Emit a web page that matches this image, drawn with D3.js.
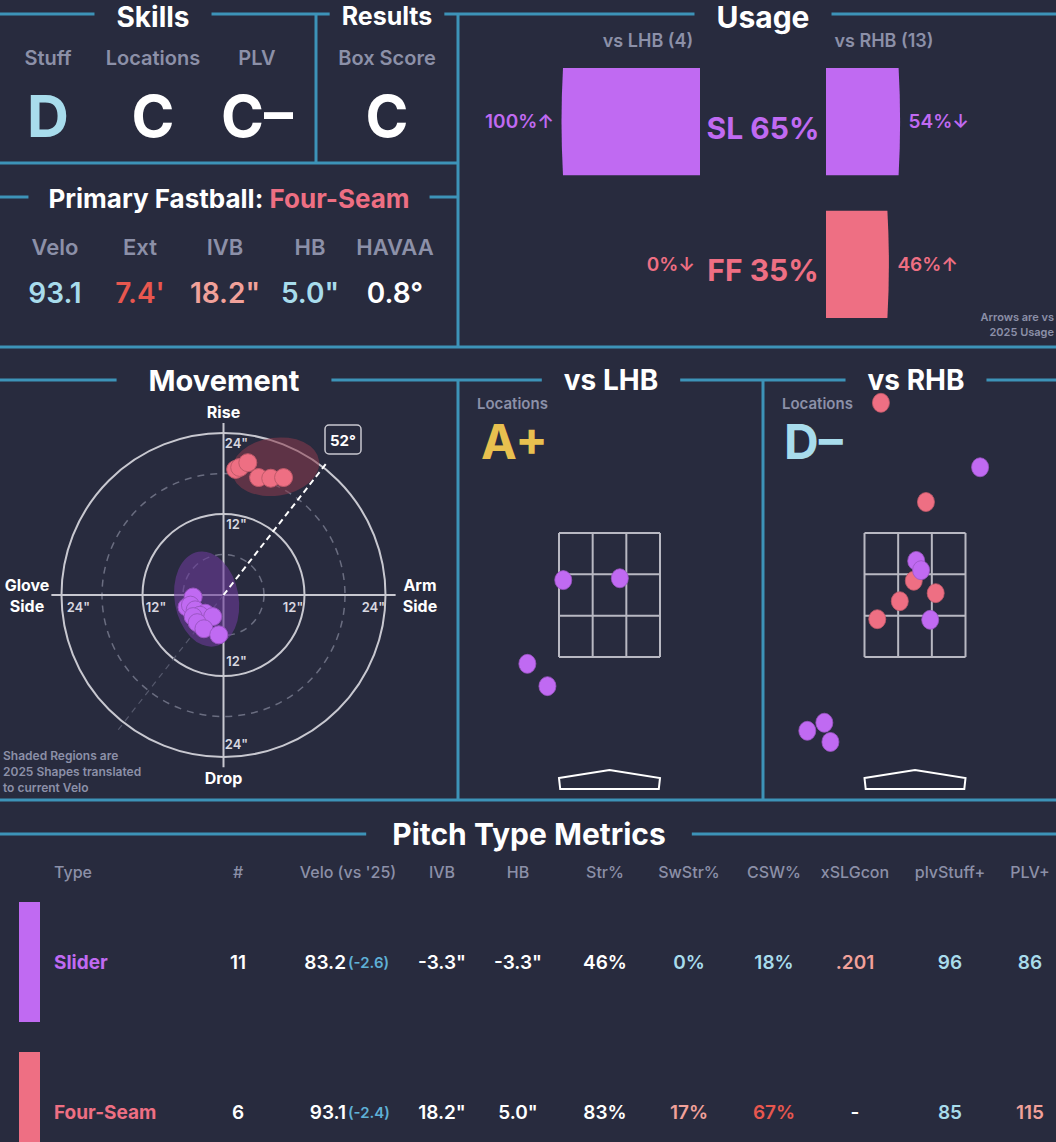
<!DOCTYPE html>
<html><head><meta charset="utf-8">
<script src="https://cdn.jsdelivr.net/npm/d3@7"></script>
<style>body{margin:0;background:#282b3e}svg{display:block}text{font-family:Inter,"Open Sans",sans-serif}</style>
</head><body>
<script>
// ---------- DATA ----------
const skillHeads = ["Stuff","Locations","PLV"];
const skillGrades = ["D","C","C-"];
const resultHead = "Box Score", resultGrade = "C";
const fbHeads = ["Velo","Ext","IVB","HB","HAVAA"];
const fbValues = ["93.1","7.4'","18.2\"","5.0\"","0.8°"];
const usagePitches = ["SL","FF"];
const usageTotal = [65,35];
const usageLHB = [100,0];
const usageRHB = [54,46];
const arrowsLHB = ["↑","↓"];
const arrowsRHB = ["↓","↑"];
// movement (inches): [HB, IVB]
const ffMove = [[1.8,18.6],[2.4,18.9],[3.6,19.6],[5.2,17.4],[7.0,17.3],[8.9,17.4]];
const slMove = [[-4.5,-0.3],[-5.4,-1.8],[-4.9,-1.5],[-4.2,-2.2],[-2.7,-2.7],[-3.5,-3.0],[-1.6,-3.2],[-4.5,-3.2],[-3.9,-4.1],[-2.9,-5.0],[-0.7,-5.9]];
const armAngle = 52;
// locations (ft): [plate_x, plate_z]
const lhbSL = [[-0.76,2.74],[0.17,2.77],[-1.35,1.39],[-1.02,1.03]];
const rhbFF = [[-0.56,5.60],[0.18,4.0],[-0.02,2.73],[-0.25,2.40],[0.34,2.53],[-0.62,2.11]];
const rhbSL = [[1.07,4.56],[0.02,3.05],[0.10,2.90],[0.25,2.10],[-1.77,0.31],[-1.49,0.44],[-1.39,0.13]];
const locGrades = ["A+","D-"];
const tableHeads = ["Type","#","Velo (vs '25)","IVB","HB","Str%","SwStr%","CSW%","xSLGcon","plvStuff+","PLV+"];
const rowNames = ["Slider","Four-Seam"];
const rowCount = ["11","6"];
const rowVelo = ["83.2","93.1"];
const rowVeloDiff = ["(-2.6)","(-2.4)"];
const rowIVB = ["-3.3\"","18.2\""];
const rowHB = ["-3.3\"","5.0\""];
const rowStr = ["46%","83%"];
const rowSwStr = ["0%","17%"];
const rowCSW = ["18%","67%"];
const rowXSLG = [".201","-"];
const rowStuff = ["96","85"];
const rowPLV = ["86","115"];

// ---------- STYLE ----------
const BG="#282b3e", LINE="#3d93b8", GRAY="#8c90a8", WHITE="#ffffff";
const PURPLE="#c06af2", PINK="#ee6f83", LBLUE="#a8dcec", RED="#e8574f", SALMON="#f1a19a", GOLD="#e8c04f", DBLUE="#5fb0d6";
const pitchColor = {SL:PURPLE, FF:PINK};
const gradeColor = {"D":LBLUE,"C":WHITE,"C-":WHITE,"A+":GOLD,"D-":LBLUE};

const W=1056,H=1142;
const svg=d3.select("body").append("svg").attr("width",W).attr("height",H);
svg.append("rect").attr("width",W).attr("height",H).attr("fill",BG);

function txt(x,y,s,o={}){
  return svg.append("text").attr("x",x).attr("y",y).text(s)
   .attr("fill",o.fill||WHITE).attr("font-size",o.size||16).attr("font-weight",o.weight||600)
   .attr("text-anchor",o.anchor||"middle").attr("dominant-baseline","central");
}
function hline(x0,x1,y){svg.append("line").attr("x1",x0).attr("x2",x1).attr("y1",y).attr("y2",y).attr("stroke",LINE).attr("stroke-width",3);}
function vline(x,y0,y1){svg.append("line").attr("x1",x).attr("x2",x).attr("y1",y0).attr("y2",y1).attr("stroke",LINE).attr("stroke-width",3);}
function section(title,cx,y,x0,x1,size=27,pad=14,ty=y){
  const t=txt(cx,ty,title,{size,weight:700});
  const w=t.node().getComputedTextLength();
  hline(x0,cx-w/2-pad,y); hline(cx+w/2+pad,x1,y);
  t.raise();
}

// ---------- FRAME ----------
section("Skills",153,14,0,316,28,22,17);
section("Results",387,14,316,458,25,12,16);
section("Usage",763,14,458,1056,30,22,17);
vline(316,14,163); vline(458,14,347);
hline(0,458,163);
hline(0,1056,347);
section("Movement",224,380,0,458,29,32);
section("vs LHB",611,380,458,763,28,22);
section("vs RHB",916,380,763,1056,28,22);
vline(458,380,800); vline(763,380,800);
hline(0,1056,800);
section("Pitch Type Metrics",529,834,0,1056,30,26);

// ---------- SKILLS ----------
const skX=[48,153,257];
skillHeads.forEach((h,i)=>{txt(skX[i],58,h,{fill:GRAY,size:20});
  txt(skX[i],116,skillGrades[i].replace("-","–"),{fill:gradeColor[skillGrades[i]],size:58,weight:700});});
txt(387,58,resultHead,{fill:GRAY,size:20});
txt(387,116,resultGrade,{fill:gradeColor[resultGrade],size:58,weight:700});

// primary fastball
{const t=svg.append("text").attr("y",198).attr("dominant-baseline","central").attr("font-size",26).attr("font-weight",700);
 t.append("tspan").attr("fill",WHITE).text("Primary Fastball: ");
 t.append("tspan").attr("fill",PINK).text("Four-Seam");
 const w=t.node().getComputedTextLength(); const cx=229;
 t.attr("x",cx-w/2); hline(0,cx-w/2-20,197); hline(cx+w/2+20,458,197);}
const fbX=[55,140,225,310,395], fbCol=[LBLUE,RED,SALMON,LBLUE,WHITE];
fbHeads.forEach((h,i)=>{txt(fbX[i],247,h,{fill:GRAY,size:22});txt(fbX[i],293,fbValues[i],{fill:fbCol[i],size:28});});

// ---------- USAGE ----------
txt(648,40,"vs LHB (4)",{fill:GRAY,size:18});
txt(884,40,"vs RHB (13)",{fill:GRAY,size:18});
const uy=d3.scaleBand().domain(usagePitches).range([68,318]).paddingInner(0.25);
const uw=d3.scaleLinear().domain([0,100]).range([0,140]);
usagePitches.forEach((p,i)=>{
  const y=uy(p),h=uy.bandwidth(),cy=y+h/2,c=pitchColor[p];
  const wl=uw(usageLHB[i]), wr=uw(usageRHB[i]);
  if(wl>0) svg.append("path").attr("fill",c).attr("d",`M700,${y}L${700-wl+3},${y}Q${700-wl},${cy} ${700-wl+3},${y+h}L700,${y+h}Z`);
  svg.append("path").attr("fill",c).attr("d",`M826,${y}L${826+wr-3},${y}Q${826+wr},${cy} ${826+wr-3},${y+h}L826,${y+h}Z`);
  txt(wl>0?700-wl-6:695,cy,usageLHB[i]+"%"+arrowsLHB[i],{fill:c,size:19,anchor:"end"});
  txt(826+wr+7,cy,usageRHB[i]+"%"+arrowsRHB[i],{fill:c,size:19,anchor:"start"});
  txt(763,cy+6,p+" "+usageTotal[i]+"%",{fill:c,size:30,weight:700});
});
txt(1054,317,"Arrows are vs",{fill:GRAY,size:11,anchor:"end"});
txt(1054,332,"2025 Usage",{fill:GRAY,size:11,anchor:"end"});

// ---------- MOVEMENT ----------
const mcx=223.5,mcy=595;
const r=d3.scaleLinear().domain([0,24]).range([0,162]);
const mx=v=>mcx+r(v), my=v=>mcy-r(v);
const mg=svg.append("g");
[6,18].forEach(d=>mg.append("circle").attr("cx",mcx).attr("cy",mcy).attr("r",r(d)).attr("fill","none").attr("stroke","#6a6d80").attr("stroke-width",1.5).attr("stroke-dasharray","7,6"));
[12,24].forEach(d=>mg.append("circle").attr("cx",mcx).attr("cy",mcy).attr("r",r(d)).attr("fill","none").attr("stroke","#c8c8d0").attr("stroke-width",2));
mg.append("line").attr("x1",mx(-25.5)).attr("x2",mx(25.5)).attr("y1",mcy).attr("y2",mcy).attr("stroke","#c8c8d0").attr("stroke-width",2);
mg.append("line").attr("x1",mcx).attr("x2",mcx).attr("y1",my(25.5)).attr("y2",my(-25.5)).attr("stroke","#c8c8d0").attr("stroke-width",2);
const aRad=armAngle*Math.PI/180;
mg.append("line").attr("x1",mcx).attr("y1",mcy).attr("x2",mcx-r(26)*Math.cos(aRad)).attr("y2",mcy+r(26)*Math.sin(aRad)).attr("stroke","#55586c").attr("stroke-width",1.2).attr("stroke-dasharray","6,5");
// shaded regions
mg.append("ellipse").attr("cx",mx(7.7)).attr("cy",my(19)).attr("rx",44).attr("ry",29).attr("transform",`rotate(-8,${mx(7.7)},${my(19)})`).attr("fill","#8a3a4c").attr("opacity",0.55);
mg.append("ellipse").attr("cx",mx(-2.5)).attr("cy",my(-0.6)).attr("rx",32).attr("ry",48).attr("transform",`rotate(-10,${mx(-2.5)},${my(-0.6)})`).attr("fill","#6a3a9a").attr("opacity",0.6);
// arm angle line
mg.append("line").attr("x1",mcx).attr("y1",mcy).attr("x2",mcx+r(25)*Math.cos(aRad)).attr("y2",mcy-r(25)*Math.sin(aRad)).attr("stroke",WHITE).attr("stroke-width",2).attr("stroke-dasharray","6,4");
mg.append("rect").attr("x",325).attr("y",425).attr("width",36).attr("height",29).attr("rx",4).attr("fill",BG).attr("stroke","#c8c8d0").attr("stroke-width",1.5);
txt(343,440,armAngle+"°",{size:15,weight:700});
// points
[[slMove,PURPLE],[ffMove,PINK]].forEach(([d,c])=>mg.selectAll(null).data(d).enter().append("circle")
  .attr("cx",p=>mx(p[0])).attr("cy",p=>my(p[1])).attr("r",9).attr("fill",c).attr("stroke",d3.color(c).darker(0.6)).attr("stroke-width",1));
// labels
txt(mcx,412,"Rise",{size:16,weight:700});
txt(mcx,778,"Drop",{size:16,weight:700});
txt(27,585,"Glove",{size:16,weight:700});txt(27,606,"Side",{size:16,weight:700});
txt(420,585,"Arm",{size:16,weight:700});txt(420,606,"Side",{size:16,weight:700});
const tl={size:13,fill:"#d8d8e0",weight:600};
[[mcx+13,my(22.5),"24\""],[mcx+13,my(10.5),"12\""],[mcx+13,my(-9.8),"12\""],[mcx+13,my(-22),"24\""],
 [mx(-21.5),607,"24\""],[mx(-10),607,"12\""],[mx(10.3),607,"12\""],[mx(22.2),607,"24\""]].forEach(d=>txt(d[0],d[1],d[2],tl));
["Shaded Regions are","2025 Shapes translated","to current Velo"].forEach((s,i)=>txt(3,755+i*16,s,{fill:GRAY,size:12,anchor:"start"}));

// ---------- LOCATIONS ----------
function locPanel(cx,sets){
  const x=d3.scaleLinear().domain([-0.83,0.83]).range([cx-50.5,cx+50.5]);
  const y=d3.scaleLinear().domain([1.5,3.5]).range([657,533]);
  const g=svg.append("g");
  const xs=d3.range(4).map(i=>x(-0.83+i*1.66/3)), ys=d3.range(4).map(i=>y(1.5+i*2/3));
  xs.forEach(v=>g.append("line").attr("x1",v).attr("x2",v).attr("y1",y(3.5)).attr("y2",y(1.5)).attr("stroke","#b8b8c2").attr("stroke-width",2));
  ys.forEach(v=>g.append("line").attr("x1",x(-0.83)).attr("x2",x(0.83)).attr("y1",v).attr("y2",v).attr("stroke","#b8b8c2").attr("stroke-width",2));
  g.append("path").attr("d",`M${x(-0.83)},778L${cx},770L${x(0.83)},778L${x(0.81)},789L${x(-0.81)},789Z`).attr("fill","none").attr("stroke",WHITE).attr("stroke-width",2);
  sets.forEach(([d,c])=>g.selectAll(null).data(d).enter().append("ellipse").attr("cx",p=>x(p[0])).attr("cy",p=>y(p[1])).attr("rx",8.5).attr("ry",9.5).attr("fill",c).attr("stroke",d3.color(c).darker(0.6)).attr("stroke-width",0.8));
}
locPanel(609.5,[[lhbSL,PURPLE]]);
locPanel(915,[[rhbFF,PINK],[rhbSL,PURPLE]]);
txt(477,403,"Locations",{fill:GRAY,size:15,anchor:"start"});
txt(782,403,"Locations",{fill:GRAY,size:15,anchor:"start"});
txt(481,441,locGrades[0],{fill:gradeColor["A+"],size:48,weight:700,anchor:"start"});
txt(784,441,locGrades[1].replace("-","–"),{fill:gradeColor["D-"],size:48,weight:700,anchor:"start"});

// ---------- TABLE ----------
const colX=[54,238,348,442,518,605,689,774,855,950,1030];
tableHeads.forEach((h,i)=>txt(colX[i],872,h,{fill:GRAY,size:16,weight:500,anchor:i==0?"start":"middle"}));
const rowY=d3.scaleOrdinal().domain(rowNames).range([962,1112]);
rowNames.forEach((n,i)=>{
  const y=rowY(n), c=i==0?PURPLE:PINK;
  svg.append("rect").attr("x",19).attr("y",y-60).attr("width",21).attr("height",120).attr("fill",c);
  txt(54,y,n,{fill:c,size:19,weight:700,anchor:"start"});
  const vs={size:19,weight:600};
  txt(238,y,rowCount[i],vs);
  txt(346,y,rowVelo[i],{...vs,anchor:"end"});
  txt(348,y,rowVeloDiff[i],{fill:DBLUE,size:15,weight:600,anchor:"start"});
  txt(442,y,rowIVB[i],vs); txt(518,y,rowHB[i],vs); txt(605,y,rowStr[i],vs);
  const colMap=[[LBLUE,LBLUE,SALMON,LBLUE,LBLUE],[SALMON,RED,WHITE,LBLUE,SALMON]][i];
  [rowSwStr,rowCSW,rowXSLG,rowStuff,rowPLV].forEach((a,j)=>txt(colX[6+j],y,a[i],{...vs,fill:colMap[j]}));
});
</script>
</body></html>
